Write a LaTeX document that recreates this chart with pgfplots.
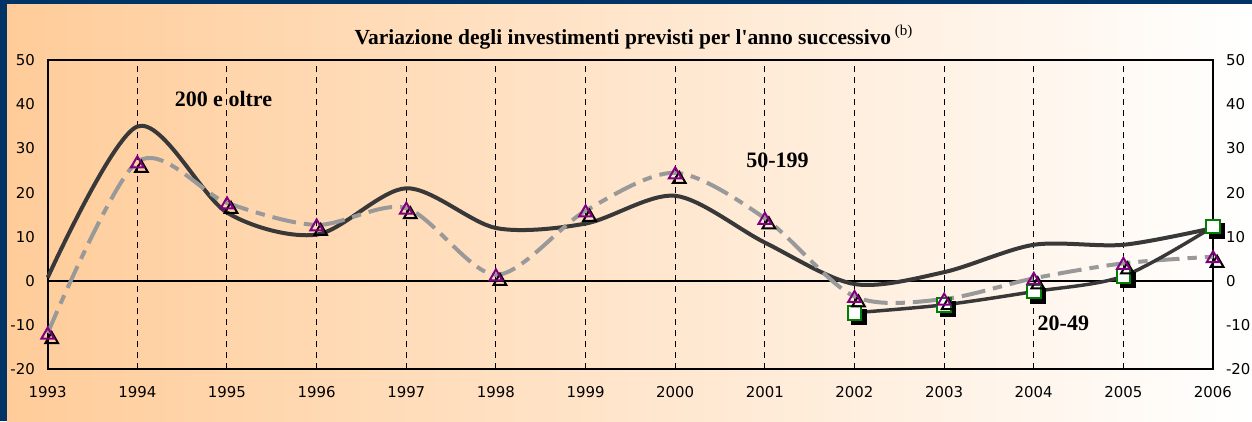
\documentclass[border=0pt]{standalone}
\usepackage{fontspec}
\setmainfont{DejaVu Sans}
\newfontfamily\tnr{Liberation Serif}
\usepackage{pgfplots}
\pgfplotsset{compat=1.18}

\definecolor{navy}{RGB}{0,51,102}
\definecolor{peach}{RGB}{255,204,153}
\definecolor{darkline}{RGB}{56,56,56}
\definecolor{dashgray}{RGB}{153,153,153}
\definecolor{mpurple}{RGB}{128,0,128}
\definecolor{mgreen}{RGB}{0,128,0}

% 1 px of the original = 0.75pt
\pgfplotstableread{
anno val
1993 0.8
1994 35
1995 15.5
1996 10.5
1997 21
1998 12
1999 13
2000 19.3
2001 8.7
2002 -0.7
2003 2
2004 8.2
2005 8.2
2006 12
}\grandi
\pgfplotstableread{
anno val
1993 -11.8
1994 27
1995 17.7
1996 12.7
1997 16.5
1998 1.4
1999 15.9
2000 24.5
2001 14.2
2002 -3.5
2003 -4.1
2004 0.6
2005 4
2006 5.5
}\medie
\pgfplotstableread{
anno val
2002 -7.2
2003 -5.4
2004 -2.4
2005 1.1
2006 12.3
}\piccole

\begin{document}
\begin{tikzpicture}[x=1pt,y=1pt]
\useasboundingbox (0,0) rectangle (939,315.75);
\fill[navy] (0,0) rectangle (939,315.75);
\shade[left color=peach, right color=white] (5.25,0) rectangle (939,312.25);

\pgfplotsset{
  base/.style={
    at={(35.8pt,38.8pt)}, anchor=south west,
    scale only axis, width=874pt, height=231.75pt,
    xmin=1993, xmax=2006, ymin=-20, ymax=50,
    ytick={-20,-10,...,50},
    major tick length=0pt,
    tick label style={font=\fontsize{11.2}{13}\selectfont},
    /pgf/number format/assume math mode=true,
    /pgf/number format/set thousands separator={},
  },
}

\begin{axis}[base,
  xtick={1993,...,2006},
  xticklabel style={yshift=-9.5pt},
  yticklabel style={xshift=-6.2pt},
  axis line style={line width=1.5pt},
  xmajorgrids,
  grid style={black, line width=0.75pt, dash pattern=on 4.5pt off 3.75pt},
  clip=false,
]
\addplot[black, line width=1.1pt] coordinates {(1993,0) (2006,0)};

% 200 e oltre
\addplot[darkline, line width=3pt, smooth, no markers] table[x=anno,y=val] {\grandi};
% 50-199
\addplot[dashgray, line width=3pt, smooth, no markers,
  dash pattern=on 18pt off 6pt on 7pt off 6pt] table[x=anno,y=val] {\medie};
% 20-49
\addplot[darkline, line width=2.6pt, smooth, no markers] table[x=anno,y=val] {\piccole};

% squares: shadow then marker
\addplot[only marks, mark=square*, mark size=5.6pt,
  mark options={fill=black, draw=black, xshift=3pt, yshift=-3pt}] table[x=anno,y=val] {\piccole};
\addplot[only marks, mark=square*, mark size=5.1pt,
  mark options={fill=white, draw=mgreen, line width=1.5pt}] table[x=anno,y=val] {\piccole};

% triangles: shadow then marker
\addplot[only marks, mark=triangle, mark size=5.5pt,
  mark options={draw=black, fill=none, line width=1.5pt, xshift=3pt, yshift=-4.8pt}] table[x=anno,y=val] {\medie};
\addplot[only marks, mark=triangle, mark size=5.5pt,
  mark options={draw=mpurple, fill=none, line width=1.5pt, yshift=-1.4pt}] table[x=anno,y=val] {\medie};

\node[anchor=base west, font=\tnr\bfseries\fontsize{16.1}{19}\selectfont]
  at (axis cs:1996.37,50) [yshift=12pt]
  {Variazione degli investimenti previsti per l'anno successivo\,\textsuperscript{\mdseries(b)}};
\node[anchor=base, font=\tnr\bfseries\fontsize{16.5}{19}\selectfont] at (axis cs:1994.96,39.6) {200 e oltre};
\node[anchor=base, font=\tnr\bfseries\fontsize{16.5}{19}\selectfont] at (axis cs:2001.14,25.7) {50-199};
\node[anchor=base, font=\tnr\bfseries\fontsize{16.5}{19}\selectfont] at (axis cs:2004.33,-11.3) {20-49};
\end{axis}

\begin{axis}[base,
  hide x axis,
  axis y line*=right,
  axis line style={draw=none},
  yticklabel style={xshift=6.2pt},
]
\addplot[draw=none] coordinates {(1993,0) (2006,0)};
\end{axis}
\end{tikzpicture}
\end{document}
